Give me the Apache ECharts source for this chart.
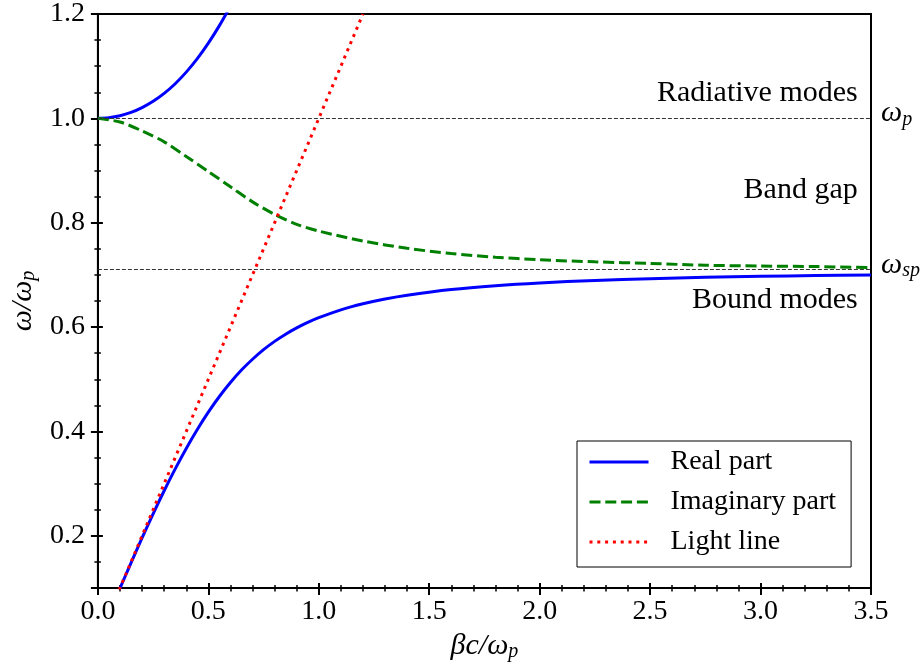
<!DOCTYPE html>
<html>
<head>
<meta charset="utf-8">
<script src="https://cdn.jsdelivr.net/npm/echarts@6/dist/echarts.min.js"></script>
<style>
  html, body { margin: 0; padding: 0; background: #fff; }
  #dispersion_chart { width: 923px; height: 668px; }
</style>
</head>
<body>
<div id="dispersion_chart"></div>
<script>
// values
const upper_x = [0, 0.05, 0.1, 0.15, 0.2, 0.25, 0.3, 0.35, 0.4, 0.45, 0.5, 0.55, 0.6];
const upper_y = [1.0, 1.0013, 1.005, 1.0114, 1.0206, 1.0327, 1.0479, 1.0664, 1.0886, 1.1144, 1.1441, 1.1777, 1.215];

const lower_x = [0.1, 0.15, 0.2, 0.25, 0.3, 0.35, 0.4, 0.45, 0.5, 0.55, 0.6, 0.65, 0.7, 0.75, 0.8, 0.85, 0.9, 0.95, 1.0,
                 1.1, 1.2, 1.3, 1.4, 1.6, 1.8, 2.0, 2.25, 2.5, 2.75, 3.0, 3.25, 3.5];
const lower_y = [0.0995, 0.1483, 0.196, 0.2421, 0.2863, 0.3282, 0.3675, 0.4038, 0.437, 0.467, 0.4938, 0.5176, 0.5384, 0.5567, 0.5726, 0.5864, 0.5984, 0.6089, 0.618,
                 0.6331, 0.6447, 0.6539, 0.6612, 0.672, 0.6794, 0.6847, 0.6895, 0.6928, 0.6954, 0.6972, 0.6987, 0.6999];

const imag_x = [0, 0.1, 0.2, 0.3, 0.4, 0.5, 0.6, 0.7, 0.8, 0.9, 1.0, 1.2, 1.4, 1.6, 1.8, 2.0, 2.25, 2.5, 2.75, 3.0, 3.25, 3.5];
const imag_y = [1.0, 0.993, 0.976, 0.955, 0.927, 0.898, 0.869, 0.840, 0.816, 0.797, 0.784, 0.765, 0.751, 0.741, 0.734, 0.729, 0.725, 0.722, 0.7185, 0.717, 0.716, 0.714];

const light_x = [0, 1.2];
const light_y = [0, 1.2];

const omega_p = 1.0;
const omega_sp = 0.7071;

const region_names = ["Radiative modes", "Band gap", "Bound modes"];
const region_x = [3.44, 3.44, 3.44];
const region_y = [1.048, 0.863, 0.651];

const legend_names = ["Real part", "Imaginary part", "Light line"];

const FONT = "Liberation Serif";

function pairs(xs, ys) {
  return xs.map((x, i) => [x, ys[i]]);
}

const mathRich = {
  i: { fontFamily: FONT, fontStyle: "italic", fontSize: 30, color: "#000", lineHeight: 32 },
  s: { fontFamily: FONT, fontStyle: "italic", fontSize: 20, color: "#000", lineHeight: 15, verticalAlign: "bottom" }
};

const chart = echarts.init(document.getElementById("dispersion_chart"));

const xBase = {
  type: "value",
  min: 0,
  max: 3.5,
  interval: 0.5,
  gridIndex: 0,
  position: "bottom",
  splitLine: { show: false },
  minorSplitLine: { show: false }
};
const yBase = {
  type: "value",
  min: 0.1,
  max: 1.2,
  gridIndex: 0,
  position: "left",
  splitLine: { show: false },
  minorSplitLine: { show: false }
};

const option = {
  animation: false,
  backgroundColor: "#fff",
  grid: {
    left: 95,
    right: 52,
    top: 13,
    bottom: 80,
    show: true,
    borderColor: "#000",
    borderWidth: 2,
    backgroundColor: "transparent"
  },
  legend: {
    data: legend_names,
    orient: "vertical",
    left: 577,
    top: 441,
    padding: [6, 15, 10, 11],
    itemWidth: 59,
    itemHeight: 14,
    itemGap: 10,
    borderColor: "#000",
    borderWidth: 1,
    backgroundColor: "#fff",
    selectedMode: false,
    itemStyle: { opacity: 0, borderWidth: 0 },
    lineStyle: { width: 3 },
    textStyle: {
      fontFamily: FONT,
      fontSize: 28,
      color: "#000",
      lineHeight: 30,
      padding: [0, 0, 0, 17]
    }
  },
  xAxis: [
    Object.assign({}, xBase, {
      name: "{i|βc/ω}{s|p}",
      nameLocation: "middle",
      nameGap: 41,
      nameTextStyle: { rich: mathRich },
      axisLine: { show: true, onZero: false, lineStyle: { color: "#000", width: 2 } },
      axisTick: { show: true, inside: false, length: 7, lineStyle: { color: "#000", width: 2 } },
      minorTick: { show: true, splitNumber: 5, length: 3.5, lineStyle: { color: "#000", width: 1.5 } },
      axisLabel: {
        margin: 10,
        fontFamily: FONT,
        fontSize: 28,
        color: "#000",
        formatter: (v) => v.toFixed(1)
      }
    }),
    Object.assign({}, xBase, {
      axisLine: { show: false, onZero: false },
      axisTick: { show: true, inside: true, length: 5, lineStyle: { color: "#000", width: 2 } },
      minorTick: { show: true, splitNumber: 5, length: 3, lineStyle: { color: "#000", width: 1.5 } },
      axisLabel: { show: false }
    })
  ],
  yAxis: [
    Object.assign({}, yBase, {
      name: "{i|ω/ω}{s|p}",
      nameLocation: "middle",
      nameRotate: 90,
      nameGap: 55,
      nameTextStyle: { rich: mathRich },
      axisLine: { show: true, onZero: false, lineStyle: { color: "#000", width: 2 } },
      axisTick: { show: true, inside: false, length: 7, lineStyle: { color: "#000", width: 2 } },
      minorTick: { show: true, splitNumber: 4, length: 3.5, lineStyle: { color: "#000", width: 1.5 } },
      axisLabel: {
        margin: 13,
        fontFamily: FONT,
        fontSize: 28,
        color: "#000",
        showMinLabel: false,
        formatter: (v) => v.toFixed(1)
      }
    }),
    Object.assign({}, yBase, {
      axisLine: { show: false, onZero: false },
      axisTick: { show: true, inside: true, length: 5, lineStyle: { color: "#000", width: 2 } },
      minorTick: { show: true, splitNumber: 4, length: 3, lineStyle: { color: "#000", width: 1.5 } },
      axisLabel: { show: false }
    })
  ],
  series: [
    {
      // reference levels omega_p and omega_sp
      name: "levels",
      type: "line",
      data: [],
      silent: true,
      markLine: {
        silent: true,
        symbol: "none",
        lineStyle: { color: "#333", width: 1, type: [4, 2] },
        label: {
          show: true,
          position: "end",
          distance: 10,
          padding: [0, 0, 10, 0],
          rich: mathRich
        },
        data: [
          { yAxis: omega_p, label: { formatter: "{i|ω}{s|p}" } },
          { yAxis: omega_sp, label: { formatter: "{i|ω}{s|sp}" } }
        ]
      }
    },
    {
      name: "Real part",
      type: "line",
      data: pairs(upper_x, upper_y),
      smooth: 0.3,
      symbol: "none",
      clip: true,
      color: "#0000ff",
      lineStyle: { color: "#0000ff", width: 3 }
    },
    {
      name: "Real part",
      type: "line",
      data: pairs(lower_x, lower_y),
      smooth: 0.3,
      symbol: "none",
      clip: true,
      color: "#0000ff",
      lineStyle: { color: "#0000ff", width: 3 }
    },
    {
      name: "Imaginary part",
      type: "line",
      data: pairs(imag_x, imag_y),
      smooth: 0.3,
      symbol: "none",
      clip: true,
      color: "#008000",
      lineStyle: { color: "#008000", width: 3, type: [11, 4.8] }
    },
    {
      name: "Light line",
      type: "line",
      data: pairs(light_x, light_y),
      symbol: "none",
      clip: true,
      color: "#ff0000",
      lineStyle: { color: "#ff0000", width: 3, type: [3, 4.8] }
    },
    {
      name: "regions",
      type: "scatter",
      symbolSize: 0,
      silent: true,
      itemStyle: { opacity: 1 },
      data: region_names.map((n, i) => ({ name: n, value: [region_x[i], region_y[i]] })),
      label: {
        show: true,
        position: "left",
        distance: 0,
        formatter: (p) => p.name,
        fontFamily: FONT,
        fontSize: 30,
        color: "#000",
        opacity: 1
      }
    }
  ]
};

chart.setOption(option);
window.addEventListener("resize", () => {
  chart.resize();
});
</script>
</body>
</html>
